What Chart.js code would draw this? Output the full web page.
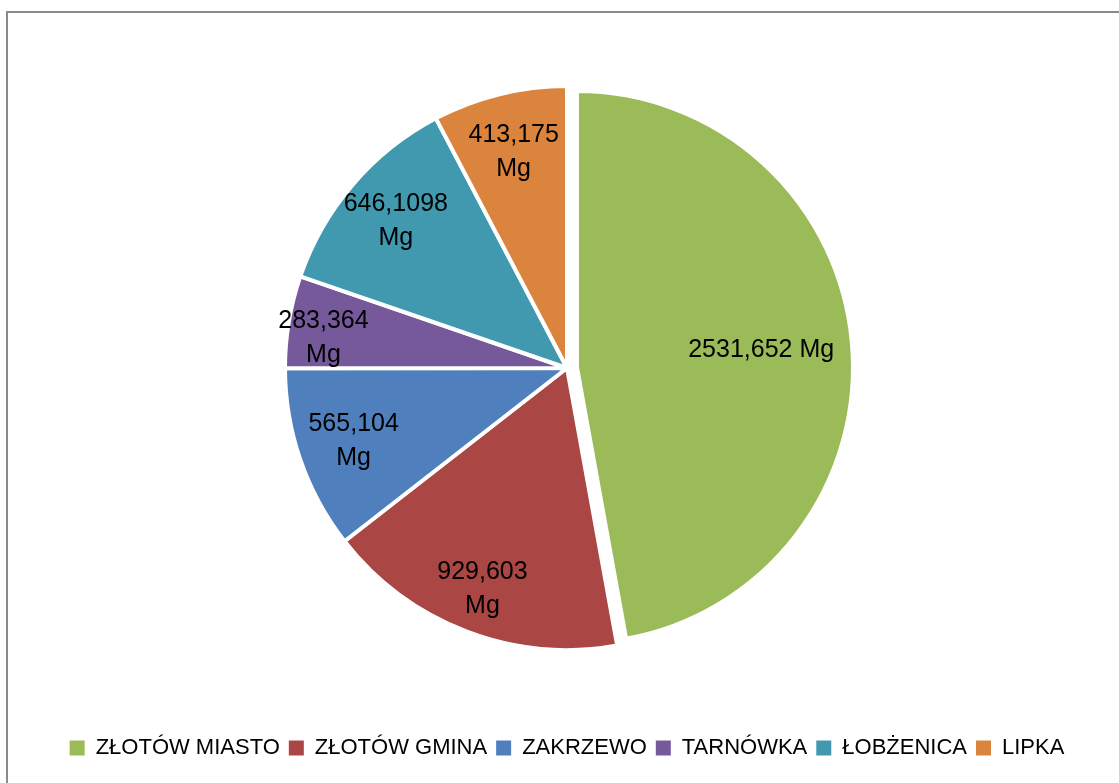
<!DOCTYPE html>
<html>
<head>
<meta charset="utf-8">
<script src="https://cdn.jsdelivr.net/npm/chart.js@4/dist/chart.umd.min.js"></script>
<style>
  html, body { margin: 0; padding: 0; background: #fff; overflow: hidden; }
  #frame { position: absolute; left: 6px; top: 11px; width: 1200px; height: 900px; border: 2px solid #8a8a8a; box-sizing: border-box; }
  #wrap { position: absolute; left: 0; top: 0; width: 1119px; height: 783px; }
</style>
</head>
<body>
<div id="frame"></div>
<div id="wrap"><canvas id="chart"></canvas></div>
<script>
// data
const categories = ["ZŁOTÓW MIASTO", "ZŁOTÓW GMINA", "ZAKRZEWO", "TARNÓWKA", "ŁOBŻENICA", "LIPKA"];
const values = [2531.652, 929.603, 565.104, 283.364, 646.1098, 413.175];
const unit = "Mg";
const colors = ["#9BBB59", "#AA4643", "#4F7FBD", "#76599A", "#4199B0", "#DB843D"];

// pull one slice out of the pie (like Excel's exploded point)
const explode = {
  id: "explode",
  afterDatasetsUpdate(chart, args, opts) {
    const arc = chart.getDatasetMeta(0).data[opts.index];
    if (!arc) return;
    const mid = (arc.startAngle + arc.endAngle) / 2;
    arc.x += Math.cos(mid) * opts.distance;
    arc.y += Math.sin(mid) * opts.distance;
    arc.outerRadius -= opts.shrink;
  }
};

// labels drawn inside slices
const sliceLabels = {
  id: "sliceLabels",
  afterDatasetsDraw(chart, args, opts) {
    const ctx = chart.ctx;
    const meta = chart.getDatasetMeta(0);
    ctx.save();
    ctx.font = opts.font;
    ctx.fillStyle = "#000";
    ctx.textAlign = "center";
    ctx.textBaseline = "middle";
    meta.data.forEach((arc, i) => {
      const p = arc.getProps(["x", "y", "startAngle", "endAngle", "outerRadius"], true);
      const mid = (p.startAngle + p.endAngle) / 2 + (opts.nudge[i] || 0) * Math.PI / 180;
      const r = p.outerRadius * opts.radii[i];
      const x = p.x + Math.cos(mid) * r;
      const y = p.y + Math.sin(mid) * r;
      const num = String(values[i]).replace(".", ",");
      const wide = (p.endAngle - p.startAngle) > Math.PI / 2;
      const lines = wide ? [num + " " + unit] : [num, unit];
      const lh = opts.lineHeight;
      lines.forEach((t, k) => {
        ctx.fillText(t, x, y + (k - (lines.length - 1) / 2) * lh);
      });
    });
    ctx.restore();
  }
};

const ctx = document.getElementById("chart").getContext("2d");
const chart = new Chart(ctx, {
  type: "pie",
  data: {
    labels: categories,
    datasets: [{
      data: values,
      backgroundColor: colors,
      borderColor: "#fff",
      borderWidth: 4
    }]
  },
  options: {
    responsive: true,
    maintainAspectRatio: false,
    animation: false,
    radius: 282,
    layout: { padding: { left: 20, right: 5, top: 8, bottom: 14 } },
    plugins: {
      tooltip: { enabled: false },
      legend: {
        position: "bottom",
        labels: {
          color: "#000",
          font: { family: "'Liberation Sans', Arial, sans-serif", size: 22 },
          boxWidth: 15,
          boxHeight: 15,
          padding: 9,
          generateLabels(c) {
            return Chart.overrides.pie.plugins.legend.labels.generateLabels(c)
              .map(l => ({ ...l, lineWidth: 0, strokeStyle: l.fillStyle }));
          }
        }
      },
      explode: { index: 0, distance: 10, shrink: 6 },
      sliceLabels: {
        font: "25px 'Liberation Sans', Arial, sans-serif",
        lineHeight: 34,
        radii: [0.67, 0.84, 0.8, 0.87, 0.8, 0.79],
        nudge: [0, 0, 0, -2.5, 0, 0]
      }
    }
  },
  plugins: [explode, sliceLabels]
});
</script>
</body>
</html>
